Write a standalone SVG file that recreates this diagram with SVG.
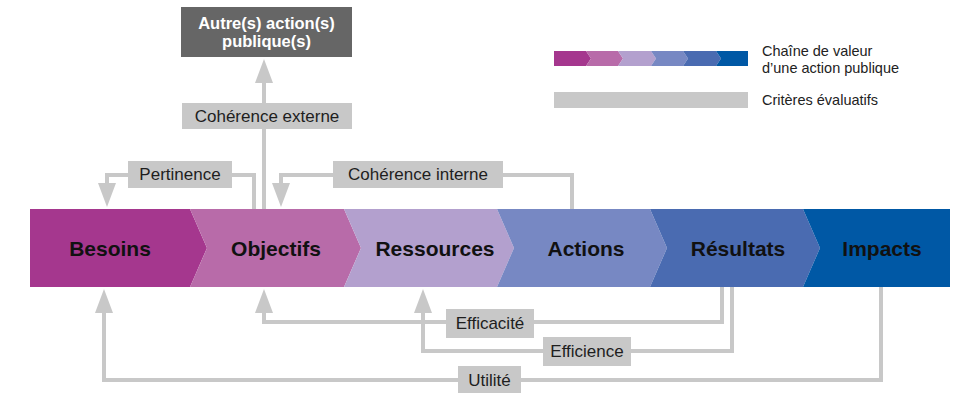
<svg xmlns="http://www.w3.org/2000/svg" width="966" height="393" viewBox="0 0 966 393">
<style>
.lbl{fill:#c8c8c8}
.lt{font-family:"Liberation Sans",Arial,sans-serif;font-size:17px;fill:#1e1e1e;text-anchor:middle;dominant-baseline:central}
.st{font-family:"Liberation Sans",Arial,sans-serif;font-size:21px;font-weight:bold;fill:#111;text-anchor:middle;dominant-baseline:central}
.lg{font-family:"Liberation Sans",Arial,sans-serif;font-size:14.5px;fill:#222}
.cn{fill:none;stroke:#c8c8c8;stroke-width:4;stroke-linejoin:miter}
</style>
<defs>
<marker id="ah" viewBox="0 -9 24 18" markerWidth="24" markerHeight="18" refX="0" refY="0" orient="auto" markerUnits="userSpaceOnUse">
<path d="M0,-9 L24,0 L0,9 z" fill="#c8c8c8"/>
</marker>
</defs>
<rect width="966" height="393" fill="#ffffff"/>

<g id="chain">
<g id="besoins"><polygon points="30,209 190,209 207,248 190,287 30,287" fill="#a5378e"/><text class="st" x="110" y="248">Besoins</text></g>
<g id="objectifs"><polygon points="190,209 344,209 361,248 344,287 190,287 207,248" fill="#b86ba9"/><text class="st" x="276" y="248">Objectifs</text></g>
<g id="ressources"><polygon points="344,209 497,209 514,248 497,287 344,287 361,248" fill="#b3a0ce"/><text class="st" x="435" y="248">Ressources</text></g>
<g id="actions"><polygon points="497,209 650,209 667,248 650,287 497,287 514,248" fill="#7788c3"/><text class="st" x="586" y="248">Actions</text></g>
<g id="resultats"><polygon points="650,209 803,209 820,248 803,287 650,287 667,248" fill="#4a6bb1"/><text class="st" x="738" y="248">Résultats</text></g>
<g id="impacts"><polygon points="803,209 950,209 950,287 803,287 820,248" fill="#0058a5"/><text class="st" x="882" y="248">Impacts</text></g>
</g>

<g id="connectors">
<path class="cn" d="M264,209 V83" marker-end="url(#ah)"/>
<path class="cn" d="M254,209 V175 H107 V183" marker-end="url(#ah)"/>
<path class="cn" d="M572,209 V175 H281 V183" marker-end="url(#ah)"/>
<path class="cn" d="M722,287 V322 H264 V313" marker-end="url(#ah)"/>
<path class="cn" d="M732,287 V351 H423 V313" marker-end="url(#ah)"/>
<path class="cn" d="M881,287 V380 H104 V313" marker-end="url(#ah)"/>
</g>

<g id="autres">
<rect x="181" y="7" width="171" height="50" fill="#666666"/>
<text x="266.5" y="29" font-family="Liberation Sans,Arial,sans-serif" font-size="16.5" font-weight="bold" fill="#ffffff" text-anchor="middle">Autre(s) action(s)</text>
<text x="266.5" y="47" font-family="Liberation Sans,Arial,sans-serif" font-size="16.5" font-weight="bold" fill="#ffffff" text-anchor="middle">publique(s)</text>
</g>
<g id="coherence-externe"><rect class="lbl" x="182" y="103" width="170" height="26"/><text class="lt" x="267" y="116">Cohérence externe</text></g>
<g id="pertinence"><rect class="lbl" x="128" y="161" width="104" height="27"/><text class="lt" x="180" y="174.5">Pertinence</text></g>
<g id="coherence-interne"><rect class="lbl" x="333" y="161" width="170" height="27"/><text class="lt" x="418" y="174.5">Cohérence interne</text></g>
<g id="efficacite"><rect class="lbl" x="446" y="309" width="88" height="29"/><text class="lt" x="490" y="323.5">Efficacité</text></g>
<g id="efficience"><rect class="lbl" x="543" y="337" width="88" height="29"/><text class="lt" x="587" y="351.5">Efficience</text></g>
<g id="utilite"><rect class="lbl" x="458" y="366" width="63" height="27"/><text class="lt" x="489.5" y="380">Utilité</text></g>

<g id="legend">
<polygon points="554,51 586,51 591,58.5 586,66 554,66" fill="#a5378e"/>
<polygon points="586,51 618,51 623,58.5 618,66 586,66 591,58.5" fill="#b86ba9"/>
<polygon points="618,51 651,51 656,58.5 651,66 618,66 623,58.5" fill="#b3a0ce"/>
<polygon points="651,51 683,51 688,58.5 683,66 651,66 656,58.5" fill="#7788c3"/>
<polygon points="683,51 716,51 721,58.5 716,66 683,66 688,58.5" fill="#4a6bb1"/>
<polygon points="716,51 748,51 748,66 716,66 721,58.5" fill="#0058a5"/>
<text class="lg" x="762" y="56">Chaîne de valeur</text>
<text class="lg" x="762" y="72.5">d’une action publique</text>
<rect x="554" y="92" width="194" height="16" fill="#c8c8c8"/>
<text class="lg" x="762" y="105">Critères évaluatifs</text>
</g>
</svg>
